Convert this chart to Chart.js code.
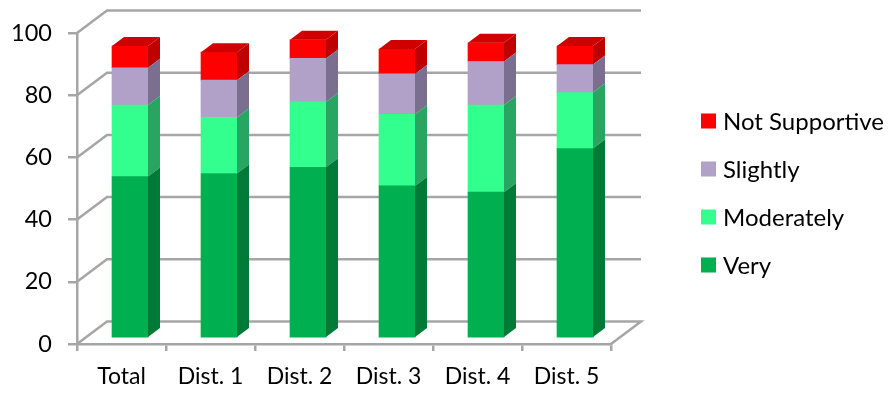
<!DOCTYPE html>
<html>
<head>
<meta charset="utf-8">
<title>Support by district</title>
<script src="https://cdn.jsdelivr.net/npm/chart.js@4"></script>
<style>
    html, body { margin: 0; padding: 0; background: #fff; }
    canvas { display: block; }
</style>
</head>
<body>
<canvas id="support-chart" width="891" height="393"></canvas>
<script>
const categories = ['Total', 'Dist. 1', 'Dist. 2', 'Dist. 3', 'Dist. 4', 'Dist. 5'];
const very = [52, 53, 55, 49, 47, 61];
const moderately = [23, 18, 21, 23, 28, 18];
const slightly = [12, 12, 14, 13, 14, 9];
const notSupportive = [7, 9, 6, 8, 6, 6];

const gridColor = '#a6a6a6';
const fontName = 'Lato, "Open Sans", sans-serif';

// depth of the floor and of each column, in px
const wall = { dx: 30, dy: -22.5 };
const column = { dx: 12, dy: -9, shiftX: 8.5, shiftY: -5.7 };

const fake3d = {
    id: 'fake3d',
    beforeDatasetsDraw(chart) {
        const { ctx, scales: { x, y } } = chart;
        const left = x.left;
        const right = x.right;

        // side wall, back wall and the floor edge on the right
        ctx.save();
        ctx.strokeStyle = gridColor;
        ctx.lineWidth = 2.5;
        y.ticks.forEach(tick => {
            const py = y.getPixelForValue(tick.value);
            ctx.beginPath();
            ctx.moveTo(left, py);
            ctx.lineTo(left + wall.dx, py + wall.dy);
            ctx.lineTo(right + wall.dx, py + wall.dy);
            if (tick.value === 0) {
                ctx.lineTo(right, py);
            }
            ctx.stroke();
        });
        ctx.restore();

        // columns stand a little inside the floor
        ctx.save();
        ctx.translate(column.shiftX, column.shiftY);
    },
    afterDatasetDraw(chart, args) {
        const { ctx } = chart;
        const dataset = chart.data.datasets[args.index];
        const isTop = args.index === chart.data.datasets.length - 1;

        args.meta.data.forEach(bar => {
            const edge = bar.x + bar.width / 2;
            ctx.fillStyle = dataset.sideColor;
            ctx.beginPath();
            ctx.moveTo(edge, bar.y);
            ctx.lineTo(edge + column.dx, bar.y + column.dy);
            ctx.lineTo(edge + column.dx, bar.base + column.dy);
            ctx.lineTo(edge, bar.base);
            ctx.closePath();
            ctx.fill();

            if (isTop) {
                ctx.fillStyle = dataset.topColor;
                ctx.beginPath();
                ctx.moveTo(edge - bar.width, bar.y);
                ctx.lineTo(edge - bar.width + column.dx, bar.y + column.dy);
                ctx.lineTo(edge + column.dx, bar.y + column.dy);
                ctx.lineTo(edge, bar.y);
                ctx.closePath();
                ctx.fill();
            }
        });
    },
    afterDatasetsDraw(chart) {
        chart.ctx.restore();
    }
};

// legend column on the right, top series first
const sideLegend = {
    id: 'sideLegend',
    afterDraw(chart) {
        const { ctx } = chart;
        ctx.save();
        ctx.font = '24px ' + fontName;
        ctx.textBaseline = 'middle';
        chart.data.datasets.slice().reverse().forEach((dataset, i) => {
            const rowY = 122 + i * 48;
            ctx.fillStyle = dataset.backgroundColor;
            ctx.fillRect(701, rowY - 8.5, 15, 15);
            ctx.fillStyle = '#000';
            ctx.fillText(dataset.label, 723, rowY);
        });
        ctx.restore();
    }
};

new Chart(document.getElementById('support-chart').getContext('2d'), {
    type: 'bar',
    data: {
        labels: categories,
        datasets: [
            { label: 'Very', data: very, backgroundColor: '#00b050', sideColor: '#007a37' },
            { label: 'Moderately', data: moderately, backgroundColor: '#33ff8f', sideColor: '#27a561' },
            { label: 'Slightly', data: slightly, backgroundColor: '#b1a0c7', sideColor: '#7a6f8f' },
            { label: 'Not Supportive', data: notSupportive, backgroundColor: '#ff0000', sideColor: '#bf0000', topColor: '#d00000' }
        ]
    },
    options: {
        responsive: false,
        animation: false,
        barThickness: 36,
        layout: { padding: { top: 33, right: 280, left: 0, bottom: 0 } },
        plugins: {
            legend: { display: false },
            tooltip: { enabled: false }
        },
        datasets: { bar: { clip: false } },
        scales: {
            x: {
                stacked: true,
                afterFit: scale => { scale.height = 49; },
                grid: { drawOnChartArea: false, color: gridColor, lineWidth: 2.5, tickLength: 7 },
                border: { color: gridColor, width: 2.5 },
                ticks: { color: '#000', font: { family: fontName, size: 23 }, padding: 12, maxRotation: 0 }
            },
            y: {
                stacked: true,
                min: 0,
                max: 100,
                afterFit: scale => { scale.width = 77; },
                grid: { drawOnChartArea: false, color: gridColor, lineWidth: 2.5, tickLength: 9 },
                border: { color: gridColor, width: 2.5 },
                ticks: { stepSize: 20, color: '#000', font: { family: fontName, size: 23.5 }, padding: 16 }
            }
        }
    },
    plugins: [fake3d, sideLegend]
});
</script>
</body>
</html>
